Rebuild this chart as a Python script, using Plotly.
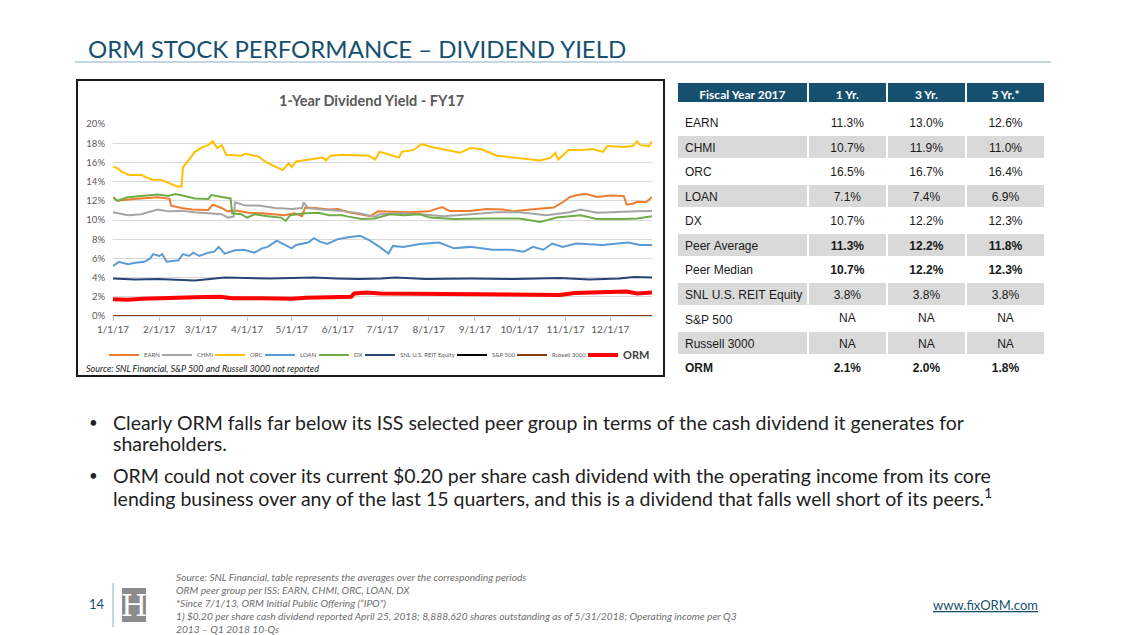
import pandas as pd
import plotly.graph_objects as go

W, H = 1129, 635

# ---------------- data (day offset from 1/1/2017, dividend yield %) ----------------
earn_days = [0, 3, 12, 19, 30, 38, 39, 46, 53, 64, 67, 73, 77, 82, 91, 100, 109, 115, 122, 127, 129, 136, 145, 151, 158,
             167, 173, 178, 186, 199, 212, 221, 226, 240, 251, 262, 269, 280, 296, 302, 307, 312, 318, 325, 334, 343,
             345, 349, 352, 358, 362]
earn_vals = [12.36, 12.0, 12.15, 12.25, 12.36, 12.2, 11.5, 11.25, 11.1, 11.05, 11.6, 11.25, 10.9, 11.0, 10.75, 10.7, 10.6,
             10.5, 10.7, 10.4, 11.3, 11.25, 11.1, 11.15, 10.8, 10.6, 10.4, 10.9, 10.85, 10.8, 10.9, 11.35, 10.95, 10.95,
             11.15, 11.1, 10.9, 11.1, 11.3, 11.85, 12.4, 12.6, 12.7, 12.4, 12.55, 12.5, 11.6, 11.7, 11.9, 11.85, 12.4]

chmi_days = [0, 10, 19, 26, 30, 37, 46, 55, 64, 73, 77, 81, 82, 89, 98, 109, 120, 127, 128, 131, 140, 154, 165, 176,
             179, 195, 206, 222, 240, 258, 273, 291, 307, 314, 325, 343, 352, 362]
chmi_vals = [10.8, 10.5, 10.6, 10.9, 11.1, 10.9, 10.95, 10.8, 10.7, 10.6, 10.25, 10.35, 11.85, 11.5, 11.5, 11.25, 11.15,
             11.25, 11.85, 11.25, 11.1, 10.95, 10.7, 10.35, 10.6, 10.7, 10.6, 10.4, 10.6, 10.8, 10.8, 10.5, 10.8, 11.1,
             10.75, 10.8, 10.9, 10.95]

orc_days = [0, 3, 6, 11, 19, 26, 32, 37, 43, 46, 47, 51, 55, 60, 64, 67, 70, 73, 76, 86, 89, 98, 102, 109, 114, 118, 120,
            123, 131, 141, 143, 146, 154, 165, 172, 176, 179, 186, 192, 194, 202, 207, 214, 224, 233, 240, 247, 258, 269,
            280, 287, 294, 297, 299, 306, 316, 322, 329, 332, 343, 349, 352, 354, 360, 362]
orc_vals = [15.55, 15.4, 15.0, 14.7, 14.7, 14.2, 14.2, 13.9, 13.5, 13.5, 15.5, 16.3, 17.1, 17.6, 17.8, 18.2, 17.5, 17.8,
            16.8, 16.7, 16.9, 16.6, 16.1, 15.55, 15.2, 15.9, 15.5, 16.1, 16.3, 16.5, 16.2, 16.7, 16.8, 16.7, 16.7, 16.3,
            17.1, 16.8, 16.5, 17.1, 17.3, 17.9, 17.6, 17.3, 17.0, 17.5, 17.4, 16.7, 16.5, 16.3, 16.2, 16.5, 17.0, 16.3,
            17.3, 17.3, 17.4, 17.1, 17.7, 17.6, 17.7, 18.2, 17.8, 17.7, 18.2]

loan_days = [0, 4, 10, 15, 21, 25, 27, 31, 33, 36, 44, 47, 51, 54, 58, 64, 68, 71, 75, 82, 88, 95, 100, 104, 110, 114,
             120, 123, 131, 135, 139, 144, 151, 158, 166, 172, 179, 185, 188, 195, 206, 219, 229, 240, 255, 267, 276,
             282, 289, 295, 302, 311, 329, 346, 354, 362]
loan_vals = [5.2, 5.65, 5.4, 5.55, 5.65, 6.0, 6.45, 6.25, 6.45, 5.65, 5.8, 6.45, 6.25, 6.6, 6.25, 6.6, 6.7, 7.2, 6.5,
             6.85, 6.9, 6.6, 7.05, 7.2, 7.85, 7.55, 7.05, 7.4, 7.65, 8.1, 7.75, 7.5, 8.0, 8.2, 8.35, 7.9, 7.2, 6.5, 7.3,
             7.2, 7.5, 7.65, 7.05, 7.2, 6.9, 6.9, 6.7, 7.2, 6.9, 7.55, 7.2, 7.55, 7.4, 7.65, 7.4, 7.4]

dx_days = [0, 3, 10, 19, 30, 37, 42, 48, 55, 64, 66, 73, 79, 80, 86, 90, 95, 104, 113, 116, 119, 129, 138, 145, 154,
           158, 167, 176, 186, 195, 206, 213, 229, 251, 273, 287, 298, 314, 325, 343, 352, 362]
dx_vals = [12.36, 12.0, 12.36, 12.5, 12.65, 12.5, 12.7, 12.5, 12.25, 12.2, 12.6, 12.4, 12.25, 10.7, 10.6, 10.25, 10.6,
           10.4, 10.25, 9.9, 10.5, 10.7, 10.75, 10.5, 10.5, 10.35, 10.1, 10.15, 10.6, 10.5, 10.6, 10.25, 10.1, 10.15,
           10.15, 9.8, 10.25, 10.5, 10.1, 10.1, 10.15, 10.4]

snl_days = [0, 15, 30, 45, 55, 65, 75, 90, 105, 120, 135, 150, 165, 180, 190, 210, 240, 270, 300, 320, 340, 350, 362]
snl_vals = [3.9, 3.8, 3.85, 3.8, 3.7, 3.85, 4.0, 3.95, 3.9, 3.95, 4.0, 3.9, 3.85, 3.9, 4.0, 3.85, 3.9, 3.85, 3.95, 3.8,
            3.9, 4.05, 4.0]

sp500_days = [0, 362]
sp500_vals = [0.0, 0.0]

russell_days = [0, 362]
russell_vals = [0.0, 0.0]

orm_days = [0, 10, 20, 35, 55, 72, 80, 100, 120, 130, 140, 155, 160, 162, 170, 180, 210, 240, 260, 280, 300, 310, 330,
            345, 352, 362]
orm_vals = [1.75, 1.7, 1.8, 1.9, 1.95, 2.0, 1.85, 1.85, 1.8, 1.9, 1.95, 1.95, 2.0, 2.35, 2.45, 2.35, 2.3, 2.3, 2.25,
            2.15, 2.2, 2.4, 2.45, 2.55, 2.35, 2.45]

month_ticks = ["2017-01-01", "2017-02-01", "2017-03-01", "2017-04-01", "2017-05-01", "2017-06-01",
               "2017-07-01", "2017-08-01", "2017-09-01", "2017-10-01", "2017-11-01", "2017-12-01"]
month_labels = ["1/1/17", "2/1/17", "3/1/17", "4/1/17", "5/1/17", "6/1/17",
                "7/1/17", "8/1/17", "9/1/17", "10/1/17", "11/1/17", "12/1/17"]

tbl_names = ["EARN", "CHMI", "ORC", "LOAN", "DX", "Peer Average", "Peer Median", "SNL U.S. REIT Equity",
             "S&P 500", "Russell 3000", "ORM"]
tbl_1yr = ["11.3%", "10.7%", "16.5%", "7.1%", "10.7%", "11.3%", "10.7%", "3.8%", "NA", "NA", "2.1%"]
tbl_3yr = ["13.0%", "11.9%", "16.7%", "7.4%", "12.2%", "12.2%", "12.2%", "3.8%", "NA", "NA", "2.0%"]
tbl_5yr = ["12.6%", "11.0%", "16.4%", "6.9%", "12.3%", "11.8%", "12.3%", "3.8%", "NA", "NA", "1.8%"]
tbl_header = ["Fiscal Year 2017", "1 Yr.", "3 Yr.", "5 Yr.*"]

footnotes = [
    "Source: SNL Financial, table represents the averages over the corresponding periods",
    "ORM peer group per ISS: EARN, CHMI, ORC, LOAN, DX",
    "*Since 7/1/13, ORM Initial Public Offering (“IPO”)",
    "1) $0.20 per share cash dividend reported April 25, 2018; 8,888,620 shares outstanding as of 5/31/2018; Operating income per Q3",
    "2013 – Q1 2018 10-Qs",
]

# ---------------- helpers (page body has an 8px margin) ----------------
OFF = 8


def px(x):
    return (x - OFF) / W


def py(y):
    return 1 - (y - OFF) / H


def to_dates(days):
    return pd.Timestamp("2017-01-01") + pd.to_timedelta(days, unit="D")


TEAL = "#16506F"
GRAY_TXT = "#595959"
SANS = "Lato, 'Open Sans', sans-serif"
ARIAL = "'Liberation Sans', Arial, sans-serif"

fig = go.Figure()

# name, days, values, colour, width, legend box left (px)
series = [
    ("EARN", earn_days, earn_vals, "#ED7D31", 2, 104),
    ("CHMI", chmi_days, chmi_vals, "#A5A5A5", 2, 157),
    ("ORC", orc_days, orc_vals, "#FFC000", 2, 210),
    ("LOAN", loan_days, loan_vals, "#5B9BD5", 2, 260),
    ("DX", dx_days, dx_vals, "#70AD47", 2, 314),
    ("SNL U.S. REIT Equity", snl_days, snl_vals, "#264478", 2, 360),
    ("S&P 500", sp500_days, sp500_vals, "#000000", 2, 452),
    ("Russell 3000", russell_days, russell_vals, "#843C0C", 2, 512),
    ("ORM", orm_days, orm_vals, "#FF0000", 4, 583),
]
legend_layouts = {}
for i, (name, d, v, c, w, lx) in enumerate(series):
    lname = "legend" if i == 0 else f"legend{i + 1}"
    fig.add_trace(go.Scatter(x=to_dates(d), y=v, mode="lines", name=name, legend=lname,
                             line=dict(color=c, width=w), xaxis="x", yaxis="y"))
    is_orm = name == "ORM"
    legend_layouts[lname] = dict(
        x=px(lx), y=py(355), xanchor="left", yanchor="middle", orientation="h",
        font=dict(family=SANS, size=11 if is_orm else 6, color="#404040" if is_orm else GRAY_TXT,
                  weight="bold" if is_orm else "normal"),
        itemwidth=30, bgcolor="rgba(0,0,0,0)", borderwidth=0)

# ---------------- table ----------------
col_w = [129, 78, 78, 78]
TX0, TX1 = px(677), px(1046)
# teal header row (with a blank 1px row below)
fig.add_trace(go.Table(
    domain=dict(x=[TX0, TX1], y=[py(109), py(82)]),
    columnwidth=col_w,
    header=dict(values=tbl_header, fill_color=TEAL, line=dict(color="white", width=2), height=21,
                align="center", font=dict(family=SANS, size=12, color="white", weight="bold")),
    cells=dict(values=[[""]] * 4, fill_color="white", line=dict(color="white", width=0), height=1,
               font=dict(size=1, color="white")),
))

names_nb = [n.replace(" ", "\u00a0") for n in tbl_names]
cols = [names_nb, tbl_1yr, tbl_3yr, tbl_5yr]
row_fill = ["white" if i % 2 == 0 else "#D9D9D9" for i in range(len(tbl_names))]
ROW_H = 24.5
TOP0 = 110
# blocks of rows sharing the same font weight per column (drawn in this order)
blocks = [
    (0, 5, ["normal"] * 4, 0),
    (5, 7, ["normal", "bold", "bold", "bold"], 0),
    (8, 9, ["normal"] * 4, -1),
    (7, 8, ["normal"] * 4, 0),
    (9, 10, ["normal"] * 4, 0),
    (10, 11, ["bold"] * 4, 0),
]
ALIGN = ["left", "center", "center", "center"]
TFS = 12
for start, end, wt, shift in blocks:
    top = TOP0 + ROW_H * start + shift
    n = end - start
    body = [c[start + 1:end] for c in cols]
    body_fill = [row_fill[start + 1:end]] * 4
    if n == 1:
        body = [[""]] * 4
        body_fill = "white"
    fig.add_trace(go.Table(
        domain=dict(x=[TX0, TX1], y=[py(top + ROW_H * n + 12), py(top)]),
        columnwidth=col_w,
        header=dict(values=[c[start] for c in cols], fill_color=row_fill[start],
                    line=dict(color="white", width=2), height=ROW_H, align=ALIGN,
                    font=dict(family=ARIAL, size=TFS, color="#1A1A1A", weight=wt)),
        cells=dict(values=body, fill_color=body_fill,
                   line=dict(color="white", width=2 if n > 1 else 0), height=ROW_H if n > 1 else 1,
                   align=ALIGN, font=dict(family=ARIAL, size=TFS if n > 1 else 1, color="#1A1A1A", weight=wt)),
    ))

# ---------------- layout ----------------
shapes = [
    dict(type="line", xref="paper", yref="paper", x0=px(75), x1=px(1051), y0=py(62), y1=py(62),
         line=dict(color="#8AAFC4", width=1)),
    dict(type="rect", xref="paper", yref="paper", x0=px(77), x1=px(664), y0=py(376), y1=py(80),
         line=dict(color="#1A1A1A", width=2)),
    dict(type="line", xref="paper", yref="paper", x0=px(113), x1=px(113), y0=py(583), y1=py(627),
         line=dict(color="#8AAFC4", width=1)),
    dict(type="rect", xref="paper", yref="paper", x0=px(122), x1=px(146), y0=py(622), y1=py(588),
         line=dict(width=0), fillcolor="#8C8C8C"),
]


def ann(text, x, y, size, color="#222222", xanchor="left", yanchor="middle", family=SANS, **kw):
    return dict(text=text, x=px(x), y=py(y), xref="paper", yref="paper", xanchor=xanchor, yanchor=yanchor,
                showarrow=False, font=dict(family=family, size=size, color=color), **kw)


BUL = 19.5
annotations = [
    ann("ORM STOCK PERFORMANCE – DIVIDEND YIELD", 86, 48, 24, TEAL),
    ann("<b>1-Year Dividend Yield - FY17</b>", 371, 100, 14.5, GRAY_TXT, xanchor="center"),
    ann("<i>Source: SNL Financial, S&P 500 and Russell 3000 not reported</i>", 84, 368, 9, "#1A1A1A"),
    ann("•", 87, 422, 15),
    ann("Clearly ORM falls far below its ISS selected peer group in terms of the cash dividend it generates for",
        111, 422, BUL),
    ann("shareholders.", 111, 443, BUL),
    ann("•", 87, 475, 15),
    ann("ORM could not cover its current $0.20 per share cash dividend with the operating income from its core",
        111, 475, BUL),
    ann("lending business over any of the last 15 quarters, and this is a dividend that falls well short of its peers.<sup>1</sup>",
        111, 497, BUL),
    ann("14", 97, 604, 13, TEAL, xanchor="center"),
    ann("H", 134, 605, 30, "white", xanchor="center", family="'DejaVu Serif', 'Liberation Serif', serif"),
    ann("<u>www.fixORM.com</u>", 1040, 605, 13, TEAL, xanchor="right"),
]
for k, line in enumerate(footnotes):
    annotations.append(ann(f"<i>{line}</i>", 174, 577 + 13 * k, 10.2, "#6E6E6E"))

fig.update_layout(
    width=W, height=H, margin=dict(l=0, r=0, t=0, b=0, autoexpand=False),
    paper_bgcolor="white", plot_bgcolor="white",
    font=dict(family=SANS, color=GRAY_TXT),
    xaxis=dict(domain=[px(113), px(652)], range=["2017-01-01", "2017-12-29"], type="date",
               tickvals=month_ticks, ticktext=month_labels, showgrid=False, zeroline=False,
               ticks="outside", ticklen=4, tickcolor="#BFBFBF", tickfont=dict(size=10, color=GRAY_TXT),
               showline=False, anchor="y"),
    yaxis=dict(domain=[py(316), py(124)], range=[0, 20], dtick=2, ticksuffix="%",
               showgrid=True, gridcolor="#D9D9D9", gridwidth=1, zeroline=True, zerolinecolor="#D9D9D9",
               tickfont=dict(size=9.5, color=GRAY_TXT), anchor="x", ticklabelstandoff=7),
    showlegend=True,
    shapes=shapes, annotations=annotations,
    **legend_layouts,
)

fig.write_html("out.html")
